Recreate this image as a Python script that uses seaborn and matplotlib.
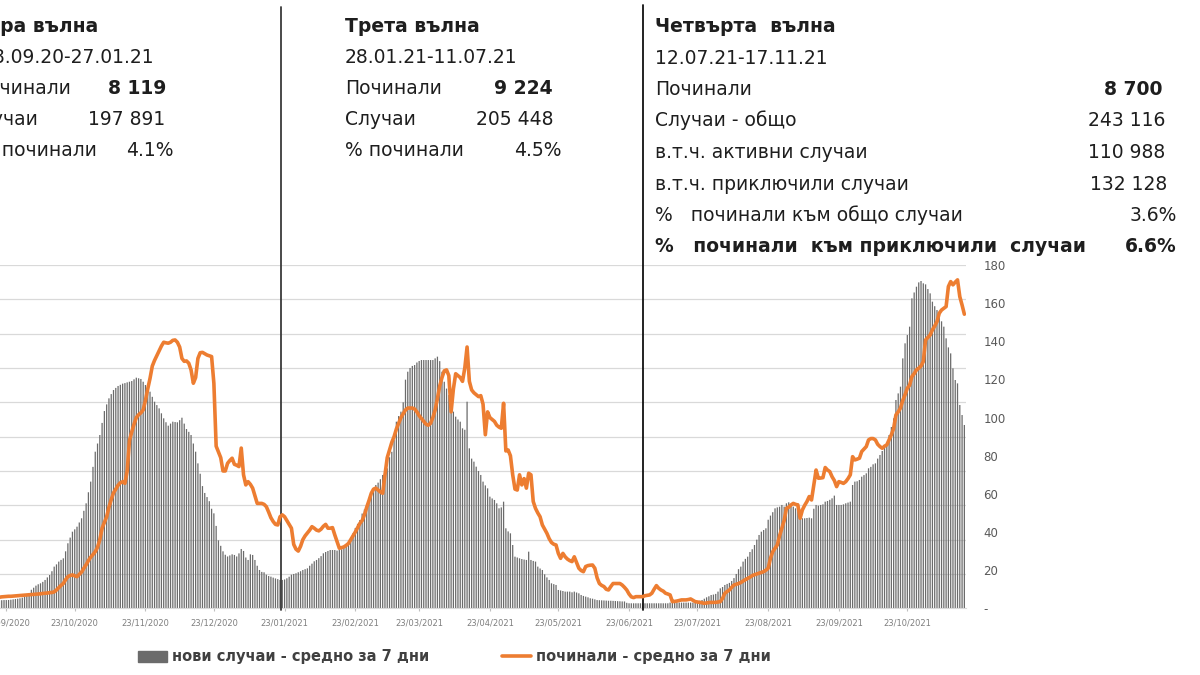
import numpy as np
import pandas as pd
import matplotlib
matplotlib.use("Agg")
import matplotlib.pyplot as plt
import matplotlib.dates as mdates
from matplotlib.patches import Patch
from matplotlib.lines import Line2D
import seaborn as sns

# ---------------- data ----------------
start_date = "2020-09-19"

# new cases, 7-day average (daily)
cases = [
    115, 116, 118, 120, 120, 121, 125, 130, 135, 140,
    146, 155, 165, 180, 220, 270, 300, 330, 350, 364,
    385, 413, 450, 485, 540, 607, 640, 680, 705, 728,
    830, 947, 1030, 1116, 1150, 1189, 1250, 1311, 1420, 1529,
    1690, 1845, 2060, 2281, 2400, 2524, 2700, 2873, 2970, 3058,
    3120, 3179, 3210, 3238, 3255, 3272, 3280, 3291, 3300, 3310,
    3335, 3359, 3350, 3340, 3300, 3252, 3205, 3155, 3080, 3009,
    2960, 2912, 2840, 2767, 2710, 2660, 2690, 2718, 2713, 2709,
    2740, 2776, 2690, 2611, 2570, 2524, 2400, 2281, 2111, 1960,
    1780, 1680, 1620, 1560, 1450, 1383, 1200, 990, 910, 830,
    780, 755, 770, 786, 777, 755, 800, 864, 835, 740,
    704, 786, 777, 704, 620, 558, 530, 524, 490, 470,
    461, 447, 435, 425, 413, 413, 420, 437, 460, 490,
    500, 510, 525, 540, 558, 570, 582, 620, 650, 685,
    704, 730, 760, 801, 820, 835, 849, 849, 849, 840,
    849, 860, 880, 922, 960, 1000, 1092, 1170, 1230, 1286,
    1380, 1440, 1480, 1553, 1640, 1720, 1796, 1830, 1880, 1942,
    2000, 2039, 2200, 2280, 2450, 2718, 2800, 2864, 3000, 3330,
    3446, 3500, 3530, 3543, 3580, 3602, 3616, 3616, 3616, 3616,
    3616, 3616, 3640, 3665, 3600, 3446, 3300, 3200, 3107, 2912,
    2864, 2791, 2750, 2718, 2621, 2600, 3009, 2330, 2180, 2136,
    2063, 2000, 1942, 1845, 1790, 1747, 1626, 1600, 1578, 1529,
    1456, 1470, 1553, 1165, 1120, 1092, 922, 752, 740, 728,
    718, 710, 704, 825, 704, 690, 680, 607, 580, 558,
    495, 450, 413, 364, 352, 340, 267, 260, 252, 243,
    243, 243, 233, 243, 230, 218, 194, 180, 170, 160,
    146, 140, 130, 120, 118, 116, 114, 112, 110, 110,
    108, 106, 104, 102, 100, 100, 80, 73, 73, 73,
    73, 73, 73, 73, 73, 73, 73, 73, 73, 73,
    73, 73, 73, 73, 73, 83, 83, 83, 83, 83,
    83, 83, 83, 83, 83, 83, 90, 97, 110, 121,
    140, 160, 175, 194, 200, 210, 243, 291, 310, 340,
    355, 370, 398, 440, 500, 570, 607, 680, 720, 752,
    820, 860, 922, 1000, 1068, 1116, 1140, 1165, 1290, 1350,
    1400, 1456, 1470, 1480, 1505, 1480, 1529, 1544, 1510, 1480,
    1456, 1529, 1420, 1311, 1311, 1315, 1320, 1311, 1450, 1505,
    1495, 1505, 1514, 1553, 1563, 1580, 1602, 1641, 1505, 1505,
    1505, 1514, 1529, 1540, 1553, 1796, 1845, 1850, 1869, 1917,
    1940, 1966, 2039, 2060, 2097, 2111, 2180, 2233, 2291, 2350,
    2403, 2524, 2640, 2767, 3034, 3130, 3228, 3640, 3859, 3980,
    4102, 4514, 4600, 4684, 4747, 4767, 4733, 4718, 4650, 4587,
    4466, 4400, 4344, 4271, 4180, 4102, 3932, 3800, 3713, 3495,
    3325, 3276, 2961, 2815, 2670,
]

# deaths, 7-day average (daily)
deaths = [
    5.5, 5.8, 6.0, 6.1, 6.2, 6.3, 6.3, 6.4, 6.5, 6.6,
    6.7, 6.8, 6.9, 7.0, 7.1, 7.2, 7.3, 7.4, 7.5, 7.6,
    7.8, 7.9, 8.0, 8.2, 8.3, 8.6, 9.6, 10.8, 12.0, 13.0,
    15.0, 16.6, 17.2, 17.5, 17.0, 16.6, 17.8, 19.0, 21.0, 22.8,
    25.0, 26.8, 28.2, 29.7, 32.0, 36.0, 42.0, 45.0, 48.0, 53.0,
    57.0, 60.5, 62.5, 64.5, 65.8, 66.4, 65.5, 72.0, 88.0, 92.5,
    96.5, 100.0, 101.5, 102.5, 104.0, 109.0, 115.0, 120.5, 127.0, 130.0,
    132.5, 135.0, 137.5, 139.5, 139.2, 139.0, 139.5, 140.5, 140.7, 139.5,
    137.0, 131.0, 129.5, 129.7, 128.5, 125.0, 118.0, 121.0, 131.0, 134.0,
    134.2, 133.5, 132.8, 132.4, 132.0, 118.0, 85.0, 82.0, 79.0, 72.0,
    72.0, 76.0, 77.5, 78.7, 75.5, 75.0, 74.3, 84.0, 70.0, 64.7,
    66.4, 65.0, 63.0, 59.0, 55.0, 55.0, 55.0, 54.5, 53.3, 50.5,
    47.5, 45.5, 44.0, 43.7, 48.0, 49.0, 48.0, 46.0, 44.0, 42.0,
    33.5, 31.0, 30.0, 32.5, 36.0, 38.0, 39.5, 41.0, 42.8, 42.0,
    41.0, 40.6, 41.5, 43.0, 44.0, 42.0, 42.0, 42.3, 38.5, 35.0,
    31.5, 31.8, 32.2, 33.0, 34.0, 36.0, 38.0, 40.0, 42.3, 44.5,
    46.0, 49.0, 53.0, 56.5, 60.3, 62.5, 63.0, 62.0, 61.0, 60.3,
    70.0, 79.0, 83.0, 87.0, 90.0, 94.0, 97.0, 100.0, 102.0, 104.0,
    105.0, 105.0, 105.0, 104.5, 103.0, 101.0, 99.5, 98.0, 96.5, 96.0,
    97.0, 100.0, 104.0, 110.0, 116.5, 121.0, 124.5, 125.0, 122.0, 103.0,
    115.0, 123.0, 122.0, 121.0, 119.0, 126.0, 137.0, 119.0, 114.5, 113.0,
    112.0, 111.0, 111.5, 107.0, 91.0, 103.0, 100.0, 99.0, 98.0, 96.0,
    95.0, 94.4, 107.5, 82.5, 83.0, 80.0, 70.0, 62.5, 62.0, 70.0,
    64.7, 68.0, 63.0, 70.8, 70.0, 56.0, 52.4, 50.0, 48.0, 43.7,
    41.5, 39.3, 36.5, 34.5, 33.6, 33.2, 28.8, 26.2, 28.8, 27.0,
    25.8, 25.0, 24.5, 27.0, 24.0, 21.0, 19.8, 19.2, 21.9, 22.4,
    22.6, 22.7, 21.0, 16.0, 13.0, 12.0, 11.4, 10.0, 9.6, 11.4,
    13.0, 13.0, 13.0, 13.0, 12.2, 11.0, 9.6, 7.5, 6.0, 5.6,
    6.1, 6.1, 6.1, 6.1, 6.6, 6.8, 7.0, 7.9, 10.0, 11.9,
    10.5, 9.6, 9.0, 7.9, 7.5, 7.0, 3.5, 3.6, 3.8, 4.1,
    4.4, 4.4, 4.4, 4.6, 4.9, 4.2, 3.5, 3.3, 3.1, 2.9,
    2.6, 2.8, 3.0, 3.1, 3.1, 3.1, 3.3, 3.5, 5.2, 7.9,
    8.8, 9.6, 11.0, 12.2, 12.6, 13.0, 13.5, 14.3, 15.0, 15.7,
    16.3, 17.1, 17.6, 18.0, 18.4, 18.8, 19.2, 20.0, 21.0, 26.2,
    29.7, 31.5, 33.2, 38.0, 42.0, 46.0, 52.4, 53.0, 54.2, 55.0,
    54.5, 54.2, 47.2, 51.6, 54.0, 56.0, 58.6, 56.8, 64.7, 72.5,
    68.2, 68.3, 68.5, 73.8, 72.5, 71.7, 69.0, 67.0, 63.8, 66.4,
    66.0, 65.5, 66.4, 68.0, 70.0, 79.5, 77.8, 78.2, 78.7, 82.2,
    83.5, 84.8, 88.3, 89.0, 89.0, 88.3, 86.0, 84.8, 83.9, 85.0,
    85.7, 88.3, 91.0, 94.4, 101.4, 103.0, 105.0, 109.0, 112.0, 115.4,
    117.0, 121.5, 123.0, 125.0, 125.9, 127.0, 129.4, 140.7, 142.0, 143.3,
    146.0, 148.0, 150.3, 154.7, 156.4, 157.3, 158.2, 168.7, 171.3, 169.6,
    171.0, 172.2, 163.4, 159.0, 154.2,
]

wave_dividers = ["2021-01-21 10:00", "2021-06-29 07:00"]

legend_labels = ["нови случаи - средно за 7 дни", "починали - средно за 7 дни"]

wave2_title = "Втора вълна"
wave2_lines = [("28.09.20-27.01.21", None), ("Починали", "8 119"),
               ("Случаи", "197 891"), ("% починали", "4.1%")]
wave3_title = "Трета вълна"
wave3_lines = [("28.01.21-11.07.21", None), ("Починали", "9 224"),
               ("Случаи", "205 448"), ("% починали", "4.5%")]
wave4_title = "Четвърта  вълна"
wave4_lines = [("12.07.21-17.11.21", None), ("Починали", "8 700"),
               ("Случаи - общо", "243 116"), ("в.т.ч. активни случаи", "110 988"),
               ("в.т.ч. приключили случаи", "132 128"),
               ("%   починали към общо случаи", "3.6%"),
               ("%   починали  към приключили  случаи", "6.6%")]

# ---------------- style ----------------
sns.set_style("white")
plt.rcParams["font.family"] = ["DejaVu Sans"]

W, H = 1200, 675
fig = plt.figure(figsize=(W / 100, H / 100), dpi=100)

# plot area in pixels: left -5, right 965.5, top 265, bottom 608.3
ax = fig.add_axes([-5 / W, (H - 608.3) / H, 970.5 / W, 343.3 / H])

dates = pd.date_range(start_date, periods=len(cases), freq="D")
df = pd.DataFrame({"x": mdates.date2num(dates), "cases": cases, "deaths": deaths})

BAR_C = "#6b6b6b"
LINE_C = "#ED7D31"

sns.barplot(data=df, x="x", y="cases", native_scale=True, width=0.55,
            color=BAR_C, saturation=1, errorbar=None, ax=ax, zorder=2,
            linewidth=0)
for p in ax.patches:
    p.set_snap(False)
    p.set_antialiased(True)

ax2 = ax.twinx()
sns.lineplot(data=df, x="x", y="deaths", color=LINE_C, lw=2.6, ax=ax2)

anchor = mdates.date2num(pd.Timestamp("2020-09-22"))
ax.set_xlim(anchor - 3.95, anchor + 421.5)
ax2.set_xlim(anchor - 3.95, anchor + 421.5)

ax.set_ylim(0, 5000)
ax.set_yticks(np.arange(0, 5001, 500))
ax.grid(axis="y", color="#d9d9d9", lw=0.9)
ax.grid(axis="x", visible=False)
ax.set_axisbelow(True)
ax.tick_params(axis="y", left=False, labelleft=False)

ax2.set_ylim(0, 180)
rt = np.arange(0, 181, 20)
ax2.set_yticks(rt)
ax2.set_yticklabels(["-" if v == 0 else str(v) for v in rt])
ax2.tick_params(axis="y", right=False, pad=9.5, labelsize=8.5, labelcolor="#595959")
ax2.grid(False)

tick_dates = pd.date_range("2020-09-23", "2021-10-23", freq=pd.DateOffset(months=1))
ax.set_xticks(mdates.date2num(tick_dates))
ax.set_xticklabels([d.strftime("%d/%m/%Y") for d in tick_dates])
ax.tick_params(axis="x", bottom=True, length=2.5, width=0.8, color="#bfbfbf",
               labelsize=6, labelcolor="#7f7f7f", pad=5)

for a in (ax, ax2):
    a.set_xlabel("")
    a.set_ylabel("")
    for s in a.spines.values():
        s.set_visible(False)
ax.spines["bottom"].set_visible(True)
ax.spines["bottom"].set_color("#d9d9d9")

# wave dividers (extend above the plot up to the text area)
for d, col, top_px in zip(wave_dividers, ["#3a3a3a", "#111111"], [7, 5]):
    ax.axvline(mdates.date2num(pd.Timestamp(d)), ymin=-0.005,
               ymax=(608.3 - top_px) / 343.3, color=col, lw=1.3,
               clip_on=False, zorder=5)

# legend
handles = [Patch(facecolor=BAR_C, edgecolor=BAR_C, label=legend_labels[0]),
           Line2D([], [], color=LINE_C, lw=2.6, label=legend_labels[1])]
fig.legend(handles=handles, loc="center", bbox_to_anchor=(454.5 / W, (H - 657) / H),
           ncol=2, frameon=False, prop={"weight": "bold", "size": 10.5},
           labelcolor="#404040", handlelength=2.0, handleheight=0.7,
           handletextpad=0.35, columnspacing=5.0)

# ---------------- text blocks ----------------
TXT_C = "#1e1e1e"
FS = 13.5


def ftext(xp, yp, s, ha="left", bold=False):
    fig.text(xp / W, 1 - yp / H, s, ha=ha, va="baseline", fontsize=FS,
             color=TXT_C, fontweight="bold" if bold else "normal")


# block 1 (cut at left edge): right-aligned so the visible parts match
b1_base = [31.5, 63, 94, 125, 156.5]
ftext(98, b1_base[0], wave2_title, ha="right", bold=True)
ftext(154, b1_base[1], wave2_lines[0][0], ha="right")
b1_label_right = [70.7, 38.3, 96.7]
b1_val_right = [166.7, 165.7, 174]
for k in range(3):
    lab, val = wave2_lines[k + 1]
    ftext(b1_label_right[k], b1_base[k + 2], lab, ha="right")
    ftext(b1_val_right[k], b1_base[k + 2], val, ha="right", bold=(k == 0))

# block 2
b2_base = [31.5, 63, 94, 125, 156.5]
ftext(345, b2_base[0], wave3_title, bold=True)
ftext(345, b2_base[1], wave3_lines[0][0])
b2_val_right = [553, 553, 562]
for k in range(3):
    lab, val = wave3_lines[k + 1]
    ftext(345, b2_base[k + 2], lab)
    ftext(b2_val_right[k], b2_base[k + 2], val, ha="right", bold=(k == 0))

# block 3
b3_base = [32, 63.5, 95, 126.5, 158, 189.5, 221, 252]
ftext(655, b3_base[0], wave4_title, bold=True)
ftext(655, b3_base[1], wave4_lines[0][0])
b3_val_right = [1163, 1165, 1165, 1167, 1177, 1177]
for k in range(6):
    lab, val = wave4_lines[k + 1]
    last = (k == 5)
    ftext(655, b3_base[k + 2], lab, bold=last)
    ftext(b3_val_right[k], b3_base[k + 2], val, ha="right", bold=(k == 0 or last))

fig.savefig("out.png", dpi=100)
